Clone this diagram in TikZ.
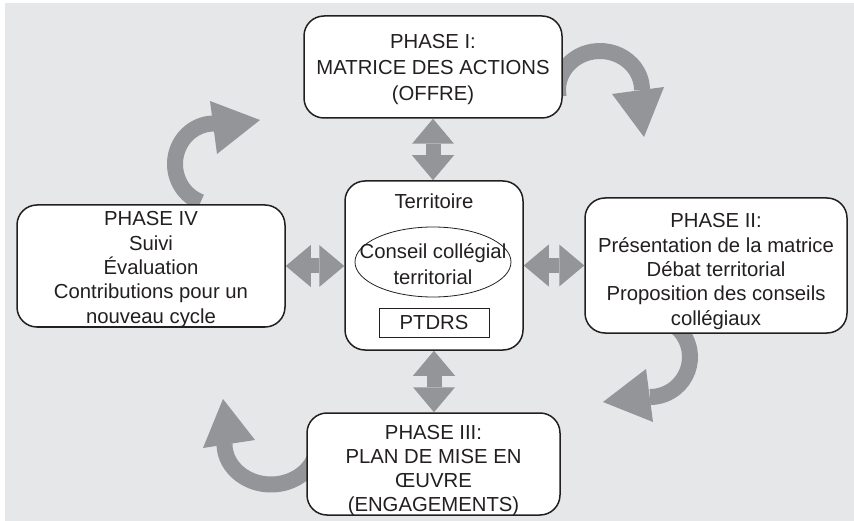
\documentclass[tikz,border=0pt]{standalone}
\usepackage{fontspec}
\setmainfont{Liberation Sans}
\usetikzlibrary{arrows.meta,calc}
\definecolor{panel}{HTML}{E6E7E8}
\definecolor{flow}{HTML}{939598}
\definecolor{ink}{HTML}{231F20}
\begin{document}
\begin{tikzpicture}[x=1pt,y=-1pt,
  phase/.style={draw=ink, line width=1.5pt, fill=white, rounded corners=20pt, inner sep=0pt},
  label/.style={align=center, inner sep=0pt, text=ink, font=\fontsize{20.3}{24.3}\selectfont},
  wide/.style={font=\fontsize{20.3}{26}\selectfont},
  thinline/.style={draw=ink, line width=0.8pt},
  cycleband/.style={draw=flow, line width=16pt},
  bothway/.style={draw=flow, line width=15pt,
    {Triangle[width=42pt,length=25pt,line width=0pt]}-{Triangle[width=42pt,length=25pt,line width=0pt]}}
]
\useasboundingbox (0,0) rectangle (854,521);
\fill[panel] (5,3) rectangle (854,521);

% cycle arrows between the phases
\draw[cycleband] (600,90) ++(170:42 and 39) arc[start angle=170,end angle=360,x radius=42,y radius=39];
\fill[flow] (612,94) -- (664,87) -- (644,137) -- cycle;

\draw[cycleband] (650,357) ++(-100:40 and 40) arc[start angle=-100,end angle=90,x radius=40,y radius=40];
\fill[flow] (646,369) -- (653,422) -- (603,402) -- cycle;

\draw[cycleband] (271,444) ++(-20:46.5 and 40.5) arc[start angle=-20,end angle=180,x radius=46.5,y radius=40.5];
\fill[flow] (203,448) -- (255,440) -- (223,399) -- cycle;

\draw[cycleband] (214,164) ++(110:39 and 40.5) arc[start angle=110,end angle=270,x radius=39,y radius=40.5];
\fill[flow] (210,101) -- (217,154) -- (260,120) -- cycle;

% phase boxes
\node[phase, minimum width=258, minimum height=102] (p1) at (433,67) {};
\node[phase, minimum width=262, minimum height=135] (p2) at (716,265.5) {};
\node[phase, minimum width=253, minimum height=102] (p3) at (433.5,464) {};
\node[phase, minimum width=268, minimum height=122] (p4) at (151,266) {};

\node[label, wide] (p1text) at (433,70) {PHASE I:\\MATRICE DES ACTIONS\\(OFFRE)};
\node[label] (p2text) at (716,271.5)
  {PHASE II:\\Présentation de la matrice\\Débat territorial\\Proposition des conseils\\collégiaux};
\node[label] (p3text) at (433.5,470.5) {PHASE III:\\PLAN DE MISE EN\\ŒUVRE\\(ENGAGEMENTS)};
\node[label] (p4text) at (151,269.5)
  {PHASE IV\\Suivi\\Évaluation\\Contributions pour un\\nouveau cycle};

% central territory box
\node[phase, minimum width=178, minimum height=169] (ctr) at (434,265.5) {};
\node[label] (terr) at (434,201) {Territoire};
\node[label, wide] (ccol) at (433,264) {Conseil collégial\\territorial};
\draw[thinline] (433,262) ellipse [x radius=78, y radius=35];
\node[label, thinline, rectangle, minimum width=110, minimum height=29] (ptdrs) at (434,322.5) {PTDRS};

% exchanges between the territory and each phase
\draw[bothway] (p1.south) -- (p1.south |- ctr.north);
\draw[bothway] (ctr.south) -- (ctr.south |- p3.north);
\draw[bothway] (p4.east) -- (p4.east -| ctr.west);
\draw[bothway] (ctr.east) -- (ctr.east -| p2.west);
\end{tikzpicture}
\end{document}
